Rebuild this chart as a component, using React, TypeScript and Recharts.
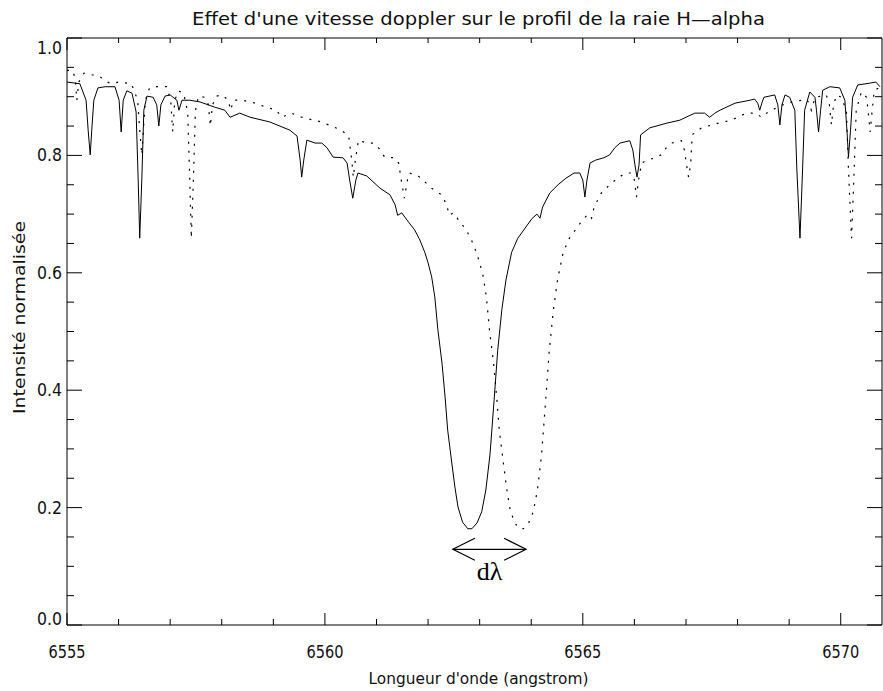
import { LineChart, Line, XAxis, YAxis, ReferenceLine, Label } from "recharts";

// profil au repos (trait plein)
const restWave = [
  6555.0, 6555.25, 6555.37, 6555.41, 6555.45, 6555.48, 6555.52, 6555.6, 6555.74, 6555.93,
  6556.01, 6556.05, 6556.09, 6556.16, 6556.26, 6556.34, 6556.38, 6556.41, 6556.45, 6556.49,
  6556.55, 6556.67, 6556.74, 6556.78, 6556.82, 6556.9, 6557.0, 6557.13, 6557.17, 6557.23,
  6557.38, 6557.58, 6557.87, 6558.06, 6558.16, 6558.35, 6558.55, 6558.93, 6559.32, 6559.46,
  6559.52, 6559.55, 6559.59, 6559.65, 6559.81, 6559.94, 6560.04, 6560.16, 6560.35, 6560.43,
  6560.48, 6560.54, 6560.6, 6560.64, 6560.81, 6561.07, 6561.26, 6561.36, 6561.41, 6561.49,
  6561.59, 6561.74, 6561.84, 6561.94, 6562.0, 6562.07, 6562.13, 6562.19, 6562.27, 6562.33,
  6562.38, 6562.46, 6562.52, 6562.58, 6562.67, 6562.77, 6562.85, 6562.95, 6563.04, 6563.12,
  6563.2, 6563.28, 6563.35, 6563.43, 6563.51, 6563.62, 6563.74, 6563.88, 6564.01, 6564.11,
  6564.17, 6564.22, 6564.36, 6564.52, 6564.67, 6564.83, 6564.94, 6565.0, 6565.04, 6565.08,
  6565.14, 6565.25, 6565.41, 6565.52, 6565.62, 6565.72, 6565.91, 6565.97, 6566.01, 6566.05,
  6566.09, 6566.12, 6566.3, 6566.63, 6566.88, 6567.17, 6567.36, 6567.46, 6567.56, 6567.66,
  6567.95, 6568.24, 6568.33, 6568.39, 6568.43, 6568.47, 6568.51, 6568.72, 6568.78, 6568.82,
  6568.86, 6568.92, 6569.01, 6569.11, 6569.15, 6569.21, 6569.26, 6569.3, 6569.4, 6569.5,
  6569.53, 6569.57, 6569.61, 6569.65, 6569.79, 6569.98, 6570.08, 6570.12, 6570.15, 6570.19,
  6570.23, 6570.33, 6570.56, 6570.68, 6570.76,
];
const restFlux = [
  0.925, 0.922, 0.894, 0.843, 0.801, 0.843, 0.894, 0.915, 0.917, 0.917,
  0.894, 0.84, 0.894, 0.91, 0.906, 0.874, 0.758, 0.659, 0.758, 0.877,
  0.901, 0.899, 0.886, 0.85, 0.886, 0.901, 0.903, 0.894, 0.877, 0.894,
  0.894, 0.891, 0.882, 0.877, 0.865, 0.872, 0.865, 0.857, 0.843, 0.833,
  0.792, 0.763, 0.792, 0.826, 0.821, 0.821, 0.813, 0.797, 0.796, 0.787,
  0.758, 0.727, 0.758, 0.77, 0.765, 0.744, 0.733, 0.716, 0.698, 0.702,
  0.69, 0.673, 0.656, 0.634, 0.617, 0.593, 0.559, 0.503, 0.446, 0.388,
  0.332, 0.276, 0.235, 0.201, 0.175, 0.164, 0.164, 0.174, 0.193, 0.23,
  0.29, 0.383, 0.468, 0.537, 0.588, 0.635, 0.659, 0.676, 0.692, 0.7,
  0.693, 0.712, 0.736, 0.75, 0.761, 0.77, 0.77, 0.758, 0.729, 0.758,
  0.787, 0.792, 0.796, 0.801, 0.813, 0.821, 0.825, 0.809, 0.784, 0.763,
  0.784, 0.835, 0.847, 0.855, 0.86, 0.872, 0.872, 0.865, 0.872, 0.877,
  0.889, 0.894, 0.896, 0.889, 0.877, 0.889, 0.899, 0.903, 0.886, 0.852,
  0.886, 0.903, 0.899, 0.877, 0.775, 0.659, 0.775, 0.877, 0.908, 0.899,
  0.877, 0.84, 0.877, 0.911, 0.917, 0.915, 0.894, 0.843, 0.797, 0.843,
  0.899, 0.92, 0.923, 0.925, 0.917,
];

// profil décalé (pointillés)
const shiftWave = [
  6555.0, 6555.1, 6555.16, 6555.19, 6555.23, 6555.33, 6555.5, 6555.64, 6555.78, 6555.87,
  6556.0, 6556.25, 6556.37, 6556.41, 6556.45, 6556.48, 6556.52, 6556.6, 6556.74, 6556.93,
  6557.01, 6557.05, 6557.09, 6557.16, 6557.26, 6557.34, 6557.38, 6557.41, 6557.45, 6557.49,
  6557.55, 6557.67, 6557.74, 6557.78, 6557.82, 6557.9, 6558.0, 6558.13, 6558.17, 6558.23,
  6558.38, 6558.58, 6558.87, 6559.06, 6559.16, 6559.35, 6559.55, 6559.93, 6560.32, 6560.46,
  6560.52, 6560.55, 6560.59, 6560.65, 6560.81, 6560.94, 6561.04, 6561.16, 6561.35, 6561.43,
  6561.48, 6561.54, 6561.6, 6561.64, 6561.81, 6562.07, 6562.26, 6562.36, 6562.41, 6562.49,
  6562.59, 6562.74, 6562.84, 6562.94, 6563.0, 6563.07, 6563.13, 6563.19, 6563.27, 6563.33,
  6563.38, 6563.46, 6563.52, 6563.58, 6563.67, 6563.77, 6563.85, 6563.95, 6564.04, 6564.12,
  6564.2, 6564.28, 6564.35, 6564.43, 6564.51, 6564.62, 6564.74, 6564.88, 6565.01, 6565.11,
  6565.17, 6565.22, 6565.36, 6565.52, 6565.67, 6565.83, 6565.94, 6566.0, 6566.04, 6566.08,
  6566.14, 6566.25, 6566.41, 6566.52, 6566.62, 6566.72, 6566.91, 6566.97, 6567.01, 6567.05,
  6567.09, 6567.12, 6567.3, 6567.63, 6567.88, 6568.17, 6568.36, 6568.46, 6568.56, 6568.66,
  6568.95, 6569.24, 6569.33, 6569.39, 6569.43, 6569.47, 6569.51, 6569.72, 6569.78, 6569.82,
  6569.86, 6569.92, 6570.01, 6570.11, 6570.15, 6570.21, 6570.26, 6570.3, 6570.4, 6570.5,
  6570.53, 6570.57, 6570.61, 6570.65, 6570.79,
];
const shiftFlux = [
  0.945, 0.945, 0.932, 0.894, 0.925, 0.94, 0.937, 0.934, 0.925, 0.922,
  0.925, 0.922, 0.894, 0.843, 0.801, 0.843, 0.894, 0.915, 0.917, 0.917,
  0.894, 0.84, 0.894, 0.91, 0.906, 0.874, 0.758, 0.659, 0.758, 0.877,
  0.901, 0.899, 0.886, 0.85, 0.886, 0.901, 0.903, 0.894, 0.877, 0.894,
  0.894, 0.891, 0.882, 0.877, 0.865, 0.872, 0.865, 0.857, 0.843, 0.833,
  0.792, 0.763, 0.792, 0.826, 0.821, 0.821, 0.813, 0.797, 0.796, 0.787,
  0.758, 0.727, 0.758, 0.77, 0.765, 0.744, 0.733, 0.716, 0.698, 0.702,
  0.69, 0.673, 0.656, 0.634, 0.617, 0.593, 0.559, 0.503, 0.446, 0.388,
  0.332, 0.276, 0.235, 0.201, 0.175, 0.164, 0.164, 0.174, 0.193, 0.23,
  0.29, 0.383, 0.468, 0.537, 0.588, 0.635, 0.659, 0.676, 0.692, 0.7,
  0.693, 0.712, 0.736, 0.75, 0.761, 0.77, 0.77, 0.758, 0.729, 0.758,
  0.787, 0.792, 0.796, 0.801, 0.813, 0.821, 0.825, 0.809, 0.784, 0.763,
  0.784, 0.835, 0.847, 0.855, 0.86, 0.872, 0.872, 0.865, 0.872, 0.877,
  0.889, 0.894, 0.896, 0.889, 0.877, 0.889, 0.899, 0.903, 0.886, 0.852,
  0.886, 0.903, 0.899, 0.877, 0.775, 0.659, 0.775, 0.877, 0.908, 0.899,
  0.877, 0.84, 0.877, 0.911, 0.917,
];

const waveTicks = [6555, 6556, 6557, 6558, 6559, 6560, 6561, 6562, 6563, 6564, 6565, 6566, 6567, 6568, 6569, 6570];
const fluxTicks = [0, 0.05, 0.1, 0.15, 0.2, 0.25, 0.3, 0.35, 0.4, 0.45, 0.5, 0.55, 0.6, 0.65, 0.7, 0.75, 0.8, 0.85, 0.9, 0.95, 1.0];

// flèche d-lambda
const arrowFrom = 6562.48;
const arrowTo = 6563.9;
const arrowLevel = 0.129;

const title = "Effet d'une vitesse doppler sur le profil de la raie H\u2014alpha";
const xTitle = "Longueur d'onde (angstrom)";
const yTitle = "Intensité normalisée";

const restData = restWave.map((w, i) => ({ wave: w, flux: restFlux[i] }));
const shiftData = shiftWave.map((w, i) => ({ wave: w, flux: shiftFlux[i] }));

const FONT = "'DejaVu Sans', sans-serif";
const INK = "#000";

const W = 883;
const H = 691;
const PLOT_TOP = 38;
const PLOT_RIGHT = W - 1;

const isMajorWave = (v: number) => Math.round(v) % 5 === 0;
const isMajorFlux = (v: number) => Math.round(v * 100) % 20 === 0;

// graduations vers l'intérieur, en bas et en haut du cadre
function BottomTick({ x, y, payload }: any) {
  const v = payload.value;
  const major = isMajorWave(v);
  return (
    <g>
      <line x1={x} x2={x} y1={y} y2={y - (major ? 12 : 6)} stroke={INK} />
      <line x1={x} x2={x} y1={PLOT_TOP} y2={PLOT_TOP + (major ? 12 : 5)} stroke={INK} />
      {major && (
        <text x={x} y={y + 33} textAnchor="middle" fontFamily={FONT} fontSize={17} fill="#111"
          textLength={37} lengthAdjust="spacingAndGlyphs">
          {String(v)}
        </text>
      )}
    </g>
  );
}

// graduations à gauche et à droite
function LeftTick({ x, y, payload }: any) {
  const v = payload.value;
  const major = isMajorFlux(v);
  // IDL garde les libellés extrêmes dans le cadre
  let dy = 6;
  if (v > 0.99) dy = 16;
  if (v < 0.01) dy = 0;
  return (
    <g>
      <line x1={x} x2={x + (major ? 15 : 7)} y1={y} y2={y} stroke={INK} />
      <line x1={PLOT_RIGHT} x2={PLOT_RIGHT - (major ? 15 : 7)} y1={y} y2={y} stroke={INK} />
      {major && (
        <text x={x - 5} y={y + dy} textAnchor="end" fontFamily={FONT} fontSize={17} fill="#111"
          textLength={25} lengthAdjust="spacingAndGlyphs">
          {v.toFixed(1)}
        </text>
      )}
    </g>
  );
}

function ArrowShape(props: any) {
  const { x1, y1, x2, y2 } = props;
  return (
    <g>
      <line x1={x1} y1={y1} x2={x2} y2={y2} stroke={INK} strokeWidth={1.2} />
      <polyline points={`${x1 + 22},${y1 - 11} ${x1},${y1} ${x1 + 22},${y1 + 11}`} fill="none" stroke={INK} strokeWidth={1.2} />
      <polyline points={`${x2 - 22},${y2 - 11} ${x2},${y2} ${x2 - 22},${y2 + 11}`} fill="none" stroke={INK} strokeWidth={1.2} />
      <text x={(x1 + x2) / 2} y={y1 + 31} textAnchor="middle" fontFamily="'Liberation Serif', serif" fontSize={26} fill={INK}>
        dλ
      </text>
    </g>
  );
}

// titre du graphe et titre de l'axe x, placés par rapport à l'axe du bas
function BottomTitles(p: any) {
  const vb = p.viewBox || { x: 67, y: 625, width: 815 };
  const cx = vb.x + vb.width / 2 + 4;
  return (
    <g>
      <text x={cx} y={vb.y + 59} textAnchor="middle" fontFamily={FONT}
        fontSize={16.5} fill="#111" textLength={220} lengthAdjust="spacingAndGlyphs">
        {xTitle}
      </text>
      <text x={cx} y={PLOT_TOP - 13} textAnchor="middle" fontFamily={FONT}
        fontSize={17} fill="#111" textLength={573} lengthAdjust="spacingAndGlyphs">
        {title}
      </text>
    </g>
  );
}

export default function App() {
  return (
    <div style={{ position: "absolute", left: 0, top: 0, background: "#fff" }}>
      <LineChart width={W} height={H} margin={{ top: PLOT_TOP - 1, right: 0, bottom: 0, left: 0 }}>
        <XAxis
          dataKey="wave"
          type="number"
          domain={[6555, 6570.8]}
          allowDataOverflow
          ticks={waveTicks}
          interval={0}
          height={66}
          tickSize={0}
          tickMargin={0}
          tickLine={false}
          axisLine={{ stroke: INK }}
          tick={<BottomTick />}
        >
          <Label content={BottomTitles} />
        </XAxis>
        <XAxis
          xAxisId="top"
          orientation="top"
          type="number"
          domain={[6555, 6570.8]}
          allowDataOverflow
          height={1}
          tickLine={false}
          tick={false}
          axisLine={{ stroke: INK }}
        />
        <YAxis
          type="number"
          domain={[0, 1]}
          allowDataOverflow
          ticks={fluxTicks}
          interval={0}
          width={67}
          tickSize={0}
          tickMargin={0}
          tickLine={false}
          axisLine={{ stroke: INK }}
          tick={<LeftTick />}
        >
          <Label
            content={(p: any) => {
              const vb = p.viewBox || { x: 0, y: 38, height: 587 };
              const cy = vb.y + vb.height / 2 - 14;
              return (
                <text transform={`translate(25, ${cy}) rotate(-90)`} textAnchor="middle" fontFamily={FONT}
                  fontSize={16} fill="#111" textLength={193} lengthAdjust="spacingAndGlyphs">
                  {yTitle}
                </text>
              );
            }}
          />
        </YAxis>
        <YAxis
          yAxisId="right"
          orientation="right"
          type="number"
          domain={[0, 1]}
          allowDataOverflow
          width={1}
          tickLine={false}
          tick={false}
          axisLine={{ stroke: INK }}
        />
        <Line
          data={shiftData}
          dataKey="flux"
          type="linear"
          stroke={INK}
          strokeWidth={1.2}
          strokeDasharray="2 7"
          dot={false}
          isAnimationActive={false}
        />
        <Line
          data={restData}
          dataKey="flux"
          type="linear"
          stroke={INK}
          strokeWidth={1}
          dot={false}
          isAnimationActive={false}
        />
        <ReferenceLine
          segment={[
            { x: arrowFrom, y: arrowLevel },
            { x: arrowTo, y: arrowLevel },
          ]}
          shape={ArrowShape}
        />
      </LineChart>
    </div>
  );
}
